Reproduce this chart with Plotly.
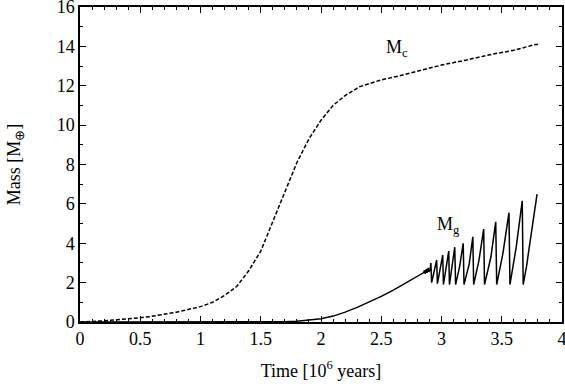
import plotly.graph_objects as go

# core mass M_c (dashed)
t_core = [0, 0.2, 0.4, 0.58, 0.8, 1.0, 1.1, 1.2, 1.3, 1.4, 1.5, 1.6, 1.7, 1.8,
          1.9, 2.0, 2.1, 2.2, 2.32, 2.5, 2.65, 2.85, 3.0, 3.2, 3.42, 3.6, 3.78, 3.81]
m_core = [0, 0.06, 0.16, 0.27, 0.5, 0.78, 1.0, 1.35, 1.8, 2.6, 3.6, 5.1, 6.65, 8.1,
          9.3, 10.25, 11.0, 11.5, 11.95, 12.3, 12.5, 12.8, 13.05, 13.3, 13.6, 13.8, 14.1, 14.1]

# gas mass M_g (solid)
t_gas = [0, 1.0, 1.5, 1.7, 1.8, 1.9, 2.0, 2.1, 2.2, 2.3, 2.4, 2.5, 2.6, 2.7, 2.8, 2.85,
         2.86, 2.865, 2.875, 2.88, 2.89, 2.895, 2.905,
         2.912, 2.918, 2.96, 2.966, 3.01, 3.016, 3.06, 3.066, 3.11, 3.117,
         3.15, 3.18, 3.187, 3.23, 3.26, 3.267, 3.31, 3.35, 3.357, 3.41, 3.45, 3.458,
         3.51, 3.56, 3.568, 3.62, 3.67, 3.678, 3.705, 3.737, 3.765, 3.793]
m_gas = [0, 0, 0, 0.01, 0.04, 0.09, 0.17, 0.3, 0.5, 0.74, 1.0, 1.3, 1.62, 1.96, 2.3, 2.5,
         2.62, 2.45, 2.7, 2.5, 2.75, 2.55, 2.65,
         3.0, 2.0, 3.15, 1.95, 3.4, 1.9, 3.6, 1.9, 3.8, 1.9,
         2.8, 4.0, 1.9, 2.95, 4.33, 1.9, 3.1, 4.72, 1.9, 3.3, 5.09, 1.9,
         3.5, 5.55, 1.9, 3.8, 6.16, 1.9, 2.8, 4.16, 5.3, 6.5]

font = dict(family="Liberation Serif", size=18, color="black")

fig = go.Figure()
fig.add_trace(go.Scatter(x=t_core, y=m_core, mode="lines",
                         line=dict(color="black", width=1.5, dash="4px,2px")))
fig.add_trace(go.Scatter(x=t_gas, y=m_gas, mode="lines",
                         line=dict(color="black", width=1.5)))

fig.add_annotation(x=2.63, y=13.9, text="M<sub>c</sub>", showarrow=False, font=font)
fig.add_annotation(x=3.06, y=4.9, text="M<sub>g</sub>", showarrow=False, font=font)

axis_common = dict(showgrid=False, zeroline=False, showline=True, linecolor="black",
                   linewidth=1.5, mirror="allticks", ticks="inside", ticklen=6,
                   tickwidth=1, tickcolor="black", tickfont=font,
                   ticklabeloverflow="allow", automargin=False)

fig.update_xaxes(range=[0, 4], dtick=0.5, tick0=0,
                 minor=dict(dtick=0.1, ticks="inside", ticklen=3, tickcolor="black"),
                 title=dict(text="Time [10<sup>6</sup> years]", font=font, standoff=16),
                 **axis_common)
fig.update_yaxes(range=[0, 16], dtick=2, tick0=0,
                 minor=dict(dtick=1, ticks="inside", ticklen=3, tickcolor="black"),
                 title=dict(text="Mass [M<sub>⊕</sub>]", font=font, standoff=31),
                 **axis_common)

fig.update_layout(width=565, height=388, showlegend=False,
                  plot_bgcolor="white", paper_bgcolor="white",
                  margin=dict(l=80, r=3, t=7, b=66))

# drop the default page margin so the figure sits at the window corner
fig.write_html("out.html", config={"displayModeBar": False},
               post_script="document.body.style.margin='0';")
